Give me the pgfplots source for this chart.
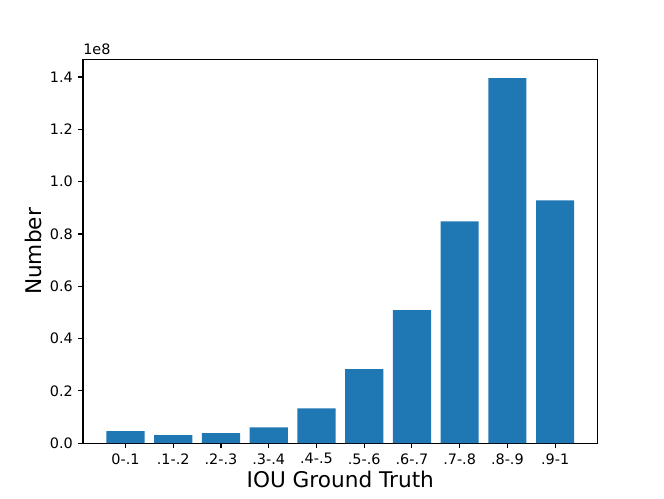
\documentclass[border=0pt]{standalone}
\usepackage{pgfplots}
\pgfplotsset{compat=1.18}
\usepackage{fontspec}
\setmainfont{DejaVu Sans}
\definecolor{mplblue}{HTML}{1F77B4}
\begin{document}
\begin{tikzpicture}
\useasboundingbox (0,0) rectangle (460.8pt,345.6pt);
\begin{axis}[
  at={(57.6pt,38.016pt)}, anchor=south west,
  scale only axis, width=357.12pt, height=266.11pt,
  xmin=-0.89, xmax=9.89, ymin=0, ymax=1.466,
  xtick={0,...,9},
  xticklabels={0-.1,.1-.2,.2-.3,.3-.4,.4-.5,.5-.6,.6-.7,.7-.8,.8-.9,.9-1},
  ytick={0,0.2,0.4,0.6,0.8,1.0,1.2,1.4},
  yticklabel style={/pgf/number format/fixed,/pgf/number format/fixed zerofill,/pgf/number format/precision=1},
  /pgf/number format/assume math mode=true,
  scaled y ticks=false,
  tick align=outside, tick pos=left,
  major tick length=3.5pt,
  every tick/.style={black, line width=0.8pt},
  axis line style={line width=0.8pt},
  ticklabel style={font=\fontsize{10pt}{12pt}\selectfont},
  xlabel={IOU Ground Truth}, ylabel={Number},
  label style={font=\fontsize{15pt}{18pt}\selectfont},
  xlabel style={yshift=2pt},
  ylabel style={yshift=-1pt},
  clip=false,
]
\addplot[ybar, bar width=0.8, fill=mplblue, draw=none] coordinates {
 (0,0.046) (1,0.031) (2,0.039) (3,0.061) (4,0.133)
 (5,0.283) (6,0.509) (7,0.848) (8,1.396) (9,0.928)
};
\node[anchor=south west, inner sep=0pt, font=\fontsize{10pt}{12pt}\selectfont] at (rel axis cs:0,1) [yshift=3pt] {1e8};
\end{axis}
\end{tikzpicture}
\end{document}
